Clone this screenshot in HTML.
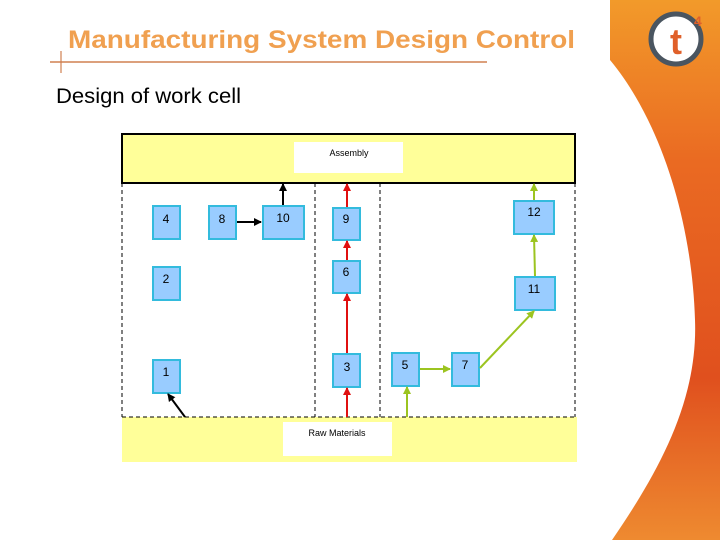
<!DOCTYPE html>
<html><head><meta charset="utf-8"><style>
html,body{margin:0;padding:0;background:#fff;}
svg{display:block;font-family:"Liberation Sans",Arial,sans-serif;}
</style></head><body>
<svg width="720" height="540" viewBox="0 0 720 540" xmlns="http://www.w3.org/2000/svg">
<defs>
<linearGradient id="og" x1="0" y1="0" x2="0" y2="1">
<stop offset="0" stop-color="#f29a2a"/><stop offset="0.3" stop-color="#ea6a22"/><stop offset="0.7" stop-color="#e0501e"/><stop offset="1" stop-color="#ee8a30"/>
</linearGradient>
<marker id="ak" markerWidth="8" markerHeight="8" refX="7" refY="4" orient="auto" markerUnits="userSpaceOnUse"><path d="M0,0 L8,4 L0,8z" fill="#000"/></marker>
<marker id="ar" markerWidth="8" markerHeight="8" refX="7" refY="4" orient="auto" markerUnits="userSpaceOnUse"><path d="M0,0 L8,4 L0,8z" fill="#e01010"/></marker>
<marker id="ag" markerWidth="8" markerHeight="8" refX="7" refY="4" orient="auto" markerUnits="userSpaceOnUse"><path d="M0,0 L8,4 L0,8z" fill="#9cc420"/></marker>
</defs>
<!-- right decoration -->
<path d="M610,0 L720,0 L720,540 L612,540 C660,470 698,400 695,320 C692,220 660,120 610,60 Z" fill="url(#og)"/>
<circle cx="676" cy="39" r="25" fill="#fff" stroke="#4a5560" stroke-width="5"/>
<text x="676" y="54" font-size="36" font-weight="bold" fill="#e0602a" text-anchor="middle">t</text>
<text x="694" y="26" font-size="14" font-weight="bold" fill="#e0602a">4</text>
<!-- title -->
<text x="68" y="48" font-size="25" font-weight="bold" fill="#f0a050" textLength="507" lengthAdjust="spacingAndGlyphs">Manufacturing System Design Control</text>
<line x1="50" y1="62" x2="487" y2="62" stroke="#d08050" stroke-width="1.5"/>
<line x1="61" y1="51" x2="61" y2="73" stroke="#d08050" stroke-width="1.2"/>
<text x="56" y="103" font-size="21" fill="#000" textLength="185" lengthAdjust="spacingAndGlyphs">Design of work cell</text>
<!-- diagram -->
<rect x="122" y="417" width="455" height="45" fill="#ffff99"/>
<rect x="122" y="134" width="453" height="49" fill="#ffff99" stroke="#000" stroke-width="2"/>
<rect x="294" y="142" width="109" height="31" fill="#fff"/>
<text x="349" y="156" font-size="9" text-anchor="middle">Assembly</text>
<rect x="283" y="422" width="109" height="34" fill="#fff"/>
<text x="337" y="436" font-size="9" text-anchor="middle">Raw Materials</text>
<g stroke="#000" stroke-dasharray="4,3" fill="none" stroke-width="1">
<line x1="122" y1="183" x2="122" y2="417"/>
<line x1="575" y1="183" x2="575" y2="417"/>
<line x1="315" y1="183" x2="315" y2="417"/>
<line x1="380" y1="183" x2="380" y2="417"/>
<line x1="122" y1="417" x2="575" y2="417"/>
</g>
<g fill="#99ccff" stroke="#33bbdd" stroke-width="2">
<rect x="153" y="206" width="27" height="33"/>
<rect x="209" y="206" width="27" height="33"/>
<rect x="263" y="206" width="41" height="33"/>
<rect x="333" y="208" width="27" height="32"/>
<rect x="333" y="261" width="27" height="32"/>
<rect x="333" y="354" width="27" height="33"/>
<rect x="153" y="267" width="27" height="33"/>
<rect x="153" y="360" width="27" height="33"/>
<rect x="392" y="353" width="27" height="33"/>
<rect x="452" y="353" width="27" height="33"/>
<rect x="515" y="277" width="40" height="33"/>
<rect x="514" y="201" width="40" height="33"/>
</g>
<g font-size="12" text-anchor="middle" fill="#000">
<text x="166" y="223">4</text><text x="222" y="223">8</text><text x="283" y="222">10</text>
<text x="346" y="223">9</text><text x="346" y="276">6</text><text x="347" y="371">3</text>
<text x="166" y="283">2</text><text x="166" y="376">1</text>
<text x="405" y="369">5</text><text x="465" y="369">7</text>
<text x="534" y="293">11</text><text x="534" y="216">12</text>
</g>
<g stroke-width="2" fill="none">
<line x1="237" y1="222" x2="261" y2="222" stroke="#000" marker-end="url(#ak)"/>
<line x1="283" y1="205" x2="283" y2="184" stroke="#000" marker-end="url(#ak)"/>
<line x1="185" y1="417" x2="168" y2="394" stroke="#000" marker-end="url(#ak)"/>
<line x1="347" y1="417" x2="347" y2="388" stroke="#e01010" marker-end="url(#ar)"/>
<line x1="347" y1="353" x2="347" y2="294" stroke="#e01010" marker-end="url(#ar)"/>
<line x1="347" y1="260" x2="347" y2="241" stroke="#e01010" marker-end="url(#ar)"/>
<line x1="347" y1="207" x2="347" y2="184" stroke="#e01010" marker-end="url(#ar)"/>
<line x1="407" y1="417" x2="407" y2="387" stroke="#9cc420" marker-end="url(#ag)"/>
<line x1="420" y1="369" x2="450" y2="369" stroke="#9cc420" marker-end="url(#ag)"/>
<line x1="480" y1="368" x2="534" y2="311" stroke="#9cc420" marker-end="url(#ag)"/>
<line x1="535" y1="276" x2="534" y2="235" stroke="#9cc420" marker-end="url(#ag)"/>
<line x1="534" y1="200" x2="534" y2="184" stroke="#9cc420" marker-end="url(#ag)"/>
</g>
</svg>
</body></html>
